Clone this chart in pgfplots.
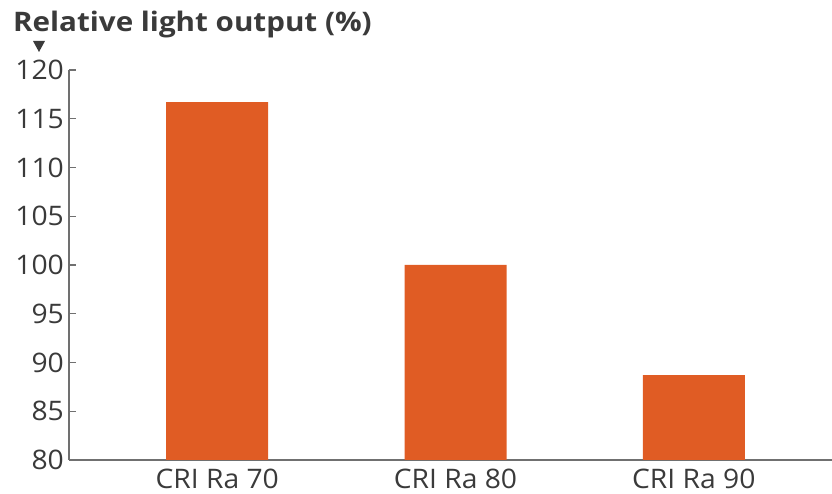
\documentclass[border=0pt]{standalone}
\usepackage{fontspec}
\setmainfont{Open Sans}
\newfontfamily\tickfont{Open Sans}[FakeStretch=1.05]
\newfontfamily\titlefont{Open Sans}[FakeStretch=1.1]
\usepackage{pgfplots}
\pgfplotsset{compat=1.18}
\definecolor{barc}{HTML}{E05C24}
\definecolor{axc}{HTML}{707070}
\definecolor{txt}{HTML}{3A3A3A}
\begin{document}
\begin{tikzpicture}[x=1bp,y=1bp]
\path[use as bounding box] (0,0) rectangle (832,494);
\begin{axis}[
  at={(69bp,34bp)}, anchor=south west,
  scale only axis, width=763bp, height=390bp,
  xmin=-0.622, xmax=2.58, ymin=80, ymax=120,
  axis x line*=bottom, axis y line*=left,
  ytick={80,85,...,120},
  xtick={0,1,2}, xticklabels={CRI Ra 70, CRI Ra 80, CRI Ra 90},
  x tick style={draw=none},
  y tick style={axc, line width=1.2bp},
  major tick length=7bp, tick align=inside,
  axis line style={axc, line width=1.5bp},
  ticklabel style={font=\tickfont\fontsize{27}{31}\selectfont, text=txt},
  yticklabel style={inner sep=5bp},
  xticklabel style={inner sep=2bp},
  /pgf/number format/assume math mode=true,
  ybar, bar width=102bp,
]
\addplot[fill=barc, draw=none] coordinates {(0,116.7) (1,100) (2,88.7)};
\end{axis}
\node[anchor=base west, inner sep=0pt, font=\titlefont\bfseries\fontsize{27}{31}\selectfont, text=txt] at (13,462) {Relative light output (\%)};
\fill[txt] (33,453) -- (45,453) -- (39,442) -- cycle;
\end{tikzpicture}
\end{document}
